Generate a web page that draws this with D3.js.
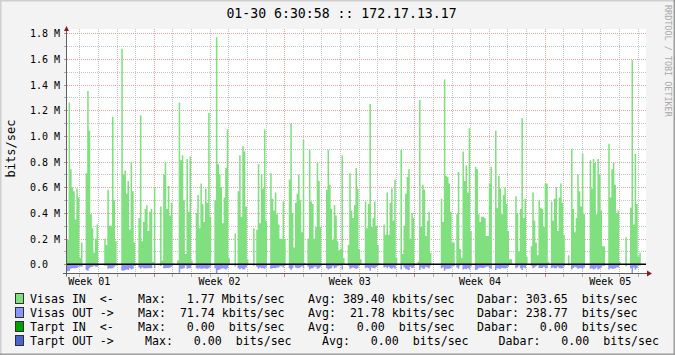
<!DOCTYPE html>
<html>
<head>
<meta charset="utf-8">
<script src="https://cdn.jsdelivr.net/npm/d3@7"></script>
<style>
  body { margin: 0; background: #f3f3f3; }
  svg { display: block; }
  text { font-family: "DejaVu Sans Mono", monospace; }
</style>
</head>
<body>
<div id="vis"></div>
<script>
const WIDTH = 675;
const HEIGHT = 355;
const PLOT = { left: 67, right: 646, top: 29, bottom: 273.5 };

// 2-hour averages starting 01-03 08:00, one line per day, Mbit/s
const STEP_HOURS = 2;
const SPAN_HOURS = 746.7;
const START = Date.UTC(2007, 0, 3, 8);

const visasIn = [
  0.19, 1.26, 0.74, 0.60, 0.57, 0.35, 0.59, 0.52,
  0.05, 0.17, 0, 0, 0.71, 1.35, 1.04, 0.39, 0.28, 0.09, 0.20, 0.31,
  0, 0, 0, 0, 0.20, 0.15, 0.58, 0.30, 0.30, 1.15, 0.50, 0.18,
  0, 0, 0, 1.68, 0.70, 0.73, 0.55, 0.65, 0.27, 0.80, 0.57, 0.17,
  0.01, 0, 0.36, 1.16, 0.18, 0.33, 0.43, 0.46, 0.26, 0.41, 0.43, 0.02,
  0.60, 0, 0, 0, 0.45, 0.03, 0.70, 0.80, 0.43, 0.61, 0.38, 0.48,
  0.01, 0, 0, 0.03, 1.26, 0.81, 0.85, 0.50, 0.08, 0.82, 0.41, 0.84,
  0.03, 0, 0, 0.40, 0.54, 0.28, 0.63, 0.47, 0.33, 0.59, 0.48, 1.18,
  0.37, 0, 0, 0.50, 1.77, 0.78, 0.70, 0.60, 0.32, 0.52, 0.75, 1.05,
  0.05, 0, 0, 0, 0.24, 0, 0.57, 0.85, 0.37, 0.92, 0.88, 0.45,
  0.04, 0, 0, 0, 0.28, 0, 0.27, 0.78, 0.32, 0.70, 0.59, 1.05,
  0.34, 0, 0, 0.71, 0.51, 0.42, 0.56, 0.39, 0.31, 0.20, 0.20, 0.49,
  0.20, 0, 0, 0.66, 1.10, 0.40, 0.13, 0.48, 0.55, 0.70, 0.50, 0.25,
  0.97, 0.01, 0, 0.20, 0.89, 0.49, 0.47, 0.20, 0.29, 0.79, 0.65, 0.29,
  0, 0, 0, 0.58, 0.89, 0.62, 0.43, 0.19, 0.46, 0.38, 0.18, 0.11,
  0.12, 0.85, 0.05, 0, 0, 0.15, 0.71, 0.42, 0.36, 0.46, 0.75, 0.59,
  0.12, 0.04, 0, 0, 0.49, 0.28, 0.47, 1.25, 0.29, 0.36, 0.49, 0.30,
  0.15, 0.01, 0, 0, 0.31, 0.23, 0.56, 0.23, 0.48, 0.59, 0.34, 0.66,
  0.05, 0, 0, 0.89, 0.08, 0.30, 0.55, 0.68, 0.74, 0.20, 0.40, 0.36,
  0, 0, 0.02, 1.28, 0.29, 0.62, 0.58, 0.22, 0.34, 0.41, 0.09, 0,
  0, 0, 0, 0, 0, 0.51, 0.33, 1.44, 0.69, 0.68, 0.63, 0.41,
  0.17, 0.17, 0, 0.39, 0.72, 0.12, 0.05, 0.88, 0.65, 0.77, 0.56, 1.06,
  0.26, 0, 0, 0.76, 0.74, 0.39, 0.33, 0.37, 0.37, 0.36, 0.22, 0.22,
  0.63, 0.76, 0, 0, 1.04, 0.44, 0.69, 0.59, 0.39, 0.54, 0.60, 0.47,
  0.26, 0.04, 0.04, 0, 0, 0.53, 0.40, 0.10, 0.43, 1.14, 0.36, 0.51,
  0.06, 0, 0, 0.14, 0.56, 0.34, 0.17, 0.07, 0.50, 0.44, 0.43, 0.29,
  0.63, 0.63, 0.02, 0, 0.49, 0.34, 0.51, 0.60, 0.26, 0.52, 0.63, 0.48,
  0.23, 0, 0, 0.07, 0, 0.90, 0.43, 0.25, 0.36, 0.70, 0.57, 0.45,
  0.86, 0.39, 0, 0, 0, 0.81, 0.59, 0.82, 0.79, 0.39, 0.82, 0.70,
  0.42, 0.14, 0.14, 0, 0, 0.94, 0.52, 0.74, 0.79, 0.62, 0.40, 0.42,
  0.02, 0, 0, 0, 0.21, 0, 0, 0.44, 1.59, 0.31, 0.86, 0.47,
  0.06, 0.09, 0, 0, 0, 0
];

const visasOut = [
  0.055, 0.05, 0.035, 0.03, 0.03, 0.03, 0.028, 0.02,
  0.018, 0.02, 0.004, 0.004, 0.045, 0.05, 0.03, 0.022, 0.02, 0.012, 0.018, 0.02,
  0.002, 0.002, 0.002, 0.002, 0.01, 0.01, 0.035, 0.03, 0.032, 0.03, 0.02, 0.012,
  0.003, 0.002, 0.002, 0.048, 0.05, 0.045, 0.04, 0.045, 0.03, 0.04, 0.035, 0.012,
  0.005, 0.002, 0.025, 0.035, 0.025, 0.03, 0.032, 0.03, 0.03, 0.03, 0.03, 0.005,
  0.03, 0.003, 0.003, 0.003, 0.012, 0.004, 0.03, 0.03, 0.028, 0.03, 0.025, 0.02,
  0.004, 0.002, 0.002, 0.004, 0.065, 0.035, 0.035, 0.03, 0.01, 0.035, 0.03, 0.03,
  0.005, 0.002, 0.002, 0.03, 0.035, 0.03, 0.035, 0.035, 0.03, 0.035, 0.035, 0.03,
  0.02, 0.002, 0.002, 0.03, 0.068, 0.045, 0.04, 0.035, 0.03, 0.035, 0.04, 0.03,
  0.006, 0.002, 0.002, 0.002, 0.015, 0.002, 0.03, 0.04, 0.03, 0.04, 0.038, 0.025,
  0.004, 0.002, 0.002, 0.002, 0.012, 0.002, 0.02, 0.035, 0.025, 0.03, 0.03, 0.035,
  0.02, 0.002, 0.002, 0.035, 0.03, 0.028, 0.03, 0.025, 0.025, 0.015, 0.015, 0.025,
  0.012, 0.002, 0.002, 0.03, 0.045, 0.03, 0.01, 0.025, 0.03, 0.03, 0.025, 0.015,
  0.03, 0.003, 0.002, 0.02, 0.04, 0.03, 0.03, 0.02, 0.02, 0.035, 0.03, 0.02,
  0.002, 0.002, 0.002, 0.03, 0.04, 0.035, 0.03, 0.015, 0.03, 0.025, 0.015, 0.01,
  0.01, 0.04, 0.005, 0.002, 0.002, 0.012, 0.035, 0.03, 0.025, 0.03, 0.035, 0.03,
  0.01, 0.004, 0.002, 0.002, 0.03, 0.025, 0.03, 0.05, 0.025, 0.028, 0.03, 0.022,
  0.012, 0.003, 0.002, 0.002, 0.025, 0.02, 0.03, 0.02, 0.03, 0.035, 0.025, 0.035,
  0.006, 0.002, 0.002, 0.04, 0.008, 0.025, 0.035, 0.04, 0.045, 0.02, 0.03, 0.025,
  0.002, 0.002, 0.004, 0.045, 0.025, 0.035, 0.035, 0.02, 0.025, 0.03, 0.01, 0.002,
  0.002, 0.002, 0.002, 0.002, 0.002, 0.03, 0.025, 0.05, 0.035, 0.035, 0.035, 0.03,
  0.015, 0.015, 0.002, 0.025, 0.035, 0.01, 0.006, 0.04, 0.035, 0.038, 0.03, 0.04,
  0.02, 0.002, 0.002, 0.045, 0.04, 0.03, 0.025, 0.028, 0.028, 0.025, 0.018, 0.018,
  0.03, 0.035, 0.002, 0.002, 0.045, 0.03, 0.035, 0.035, 0.028, 0.03, 0.032, 0.03,
  0.02, 0.005, 0.005, 0.002, 0.002, 0.03, 0.025, 0.01, 0.03, 0.045, 0.025, 0.03,
  0.006, 0.002, 0.002, 0.012, 0.03, 0.025, 0.015, 0.008, 0.03, 0.028, 0.028, 0.02,
  0.03, 0.03, 0.004, 0.002, 0.03, 0.025, 0.03, 0.03, 0.02, 0.03, 0.03, 0.03,
  0.018, 0.002, 0.002, 0.008, 0.002, 0.04, 0.028, 0.02, 0.025, 0.035, 0.03, 0.028,
  0.035, 0.025, 0.002, 0.002, 0.002, 0.035, 0.03, 0.04, 0.035, 0.025, 0.04, 0.035,
  0.025, 0.012, 0.012, 0.002, 0.002, 0.04, 0.03, 0.035, 0.035, 0.03, 0.025, 0.025,
  0.004, 0.002, 0.002, 0.002, 0.015, 0.002, 0.002, 0.03, 0.0717, 0.025, 0.04, 0.03,
  0.008, 0.01, 0.002, 0.002, 0.002, 0.002
];

const Y_MIN = -0.07174;
const Y_MAX = 1.8337;
const yTickValues = [0, 0.2, 0.4, 0.6, 0.8, 1.0, 1.2, 1.4, 1.6, 1.8];
const yMinorValues = [0.1, 0.3, 0.5, 0.7, 0.9, 1.1, 1.3, 1.5, 1.7];

const TITLE = "01-30 6:30:58 :: 172.17.13.17";
const Y_LABEL = "bits/sec";
const WATERMARK = "RRDTOOL / TOBI OETIKER";

const legendNames = ["Visas IN  <-", "Visas OUT ->", "Tarpt IN  <-", "Tarpt OUT ->"];
const legendColors = ["#80e080", "#8a96ff", "#00a000", "#4a66cc"];
const legendMax = [[1.77, "M"], [71.74, "k"], [0, ""], [0, ""]];
const legendAvg = [[389.40, "k"], [21.78, "k"], [0, ""], [0, ""]];
const legendDabar = [[303.65, ""], [238.77, ""], [0, ""], [0, ""]];

const svg = d3.select("#vis")
  .append("svg")
  .attr("width", WIDTH)
  .attr("height", HEIGHT);

// background with rrdtool style shade
svg.append("rect").attr("width", WIDTH).attr("height", HEIGHT).attr("fill", "#f3f3f3");
svg.append("path").attr("d", `M0,${HEIGHT} V0 H${WIDTH}`)
  .attr("fill", "none").attr("stroke", "#cfcfcf").attr("stroke-width", 3);
svg.append("path").attr("d", `M0,${HEIGHT} H${WIDTH} V0`)
  .attr("fill", "none").attr("stroke", "#9e9e9e").attr("stroke-width", 3);

const X_SCALE = d3.scaleUtc()
  .domain([new Date(START), new Date(START + SPAN_HOURS * 3600e3)])
  .range([PLOT.left, PLOT.right]);

const Y_SCALE = d3.scaleLinear()
  .domain([Y_MIN, Y_MAX])
  .range([PLOT.bottom, PLOT.top]);

svg.append("rect")
  .attr("x", PLOT.left).attr("y", PLOT.top)
  .attr("width", PLOT.right - PLOT.left).attr("height", PLOT.bottom - PLOT.top)
  .attr("fill", "#ffffff");

svg.append("clipPath").attr("id", "clip")
  .append("rect")
  .attr("x", PLOT.left).attr("y", PLOT.top)
  .attr("width", PLOT.right - PLOT.left).attr("height", PLOT.bottom - PLOT.top);

// grid
const grid = svg.append("g").attr("shape-rendering", "crispEdges");
const days = d3.utcDay.range(X_SCALE.domain()[0], X_SCALE.domain()[1]);
const isMonday = (d) => d.getUTCDay() === 1;

grid.selectAll(".hminor").data(yMinorValues).enter().append("line")
  .attr("x1", PLOT.left).attr("x2", PLOT.right)
  .attr("y1", (d) => Math.round(Y_SCALE(d)) + 0.5).attr("y2", (d) => Math.round(Y_SCALE(d)) + 0.5)
  .attr("stroke", "#c4c4c4").attr("stroke-dasharray", "1,1");
grid.selectAll(".vminor").data(days.filter((d) => !isMonday(d))).enter().append("line")
  .attr("x1", (d) => Math.round(X_SCALE(d)) + 0.5).attr("x2", (d) => Math.round(X_SCALE(d)) + 0.5)
  .attr("y1", PLOT.top).attr("y2", PLOT.bottom)
  .attr("stroke", "#c4c4c4").attr("stroke-dasharray", "1,1");
grid.selectAll(".hmajor").data(yTickValues.filter((d) => d > 0)).enter().append("line")
  .attr("x1", PLOT.left).attr("x2", PLOT.right)
  .attr("y1", (d) => Math.round(Y_SCALE(d)) + 0.5).attr("y2", (d) => Math.round(Y_SCALE(d)) + 0.5)
  .attr("stroke", "#e2a4a4").attr("stroke-dasharray", "1,1");
grid.selectAll(".vmajor").data(days.filter(isMonday)).enter().append("line")
  .attr("x1", (d) => Math.round(X_SCALE(d)) + 0.5).attr("x2", (d) => Math.round(X_SCALE(d)) + 0.5)
  .attr("y1", PLOT.top).attr("y2", PLOT.bottom)
  .attr("stroke", "#e2a4a4").attr("stroke-dasharray", "1,1");

// small ticks on the axes
grid.selectAll(".ytick").data(yTickValues.concat(yMinorValues)).enter().append("line")
  .attr("x1", PLOT.left - 3).attr("x2", PLOT.left)
  .attr("y1", (d) => Math.round(Y_SCALE(d)) + 0.5).attr("y2", (d) => Math.round(Y_SCALE(d)) + 0.5)
  .attr("stroke", (d) => yTickValues.includes(d) ? "#d08080" : "#b0b0b0");
grid.selectAll(".xtick").data(days).enter().append("line")
  .attr("x1", (d) => Math.round(X_SCALE(d)) + 0.5).attr("x2", (d) => Math.round(X_SCALE(d)) + 0.5)
  .attr("y1", PLOT.bottom).attr("y2", PLOT.bottom + 3)
  .attr("stroke", (d) => isMonday(d) ? "#d08080" : "#b0b0b0");

// series
const toPoints = (arr, sign) => {
  const pts = arr.map((v, i) => ({ t: new Date(START + i * STEP_HOURS * 3600e3), v: sign * v }));
  pts.push({ t: new Date(START + arr.length * STEP_HOURS * 3600e3), v: sign * arr[arr.length - 1] });
  return pts;
};

const area = d3.area()
  .curve(d3.curveStepAfter)
  .x((d) => X_SCALE(d.t))
  .y0(Y_SCALE(0))
  .y1((d) => Y_SCALE(d.v));

const series = svg.append("g").attr("clip-path", "url(#clip)");
series.append("path").datum(toPoints(visasIn, 1))
  .attr("d", area).attr("fill", legendColors[0]);
series.append("path").datum(toPoints(visasOut, -1))
  .attr("d", area).attr("fill", legendColors[1]);

svg.append("line")
  .attr("x1", PLOT.left).attr("x2", PLOT.right)
  .attr("y1", Y_SCALE(0)).attr("y2", Y_SCALE(0))
  .attr("stroke", "#000").attr("stroke-width", 1.4);

// axes lines and arrows
svg.append("line")
  .attr("x1", PLOT.left - 0.5).attr("x2", PLOT.left - 0.5)
  .attr("y1", PLOT.bottom + 3).attr("y2", PLOT.top)
  .attr("stroke", "#606060");
svg.append("line")
  .attr("x1", PLOT.left - 4).attr("x2", PLOT.right + 1)
  .attr("y1", PLOT.bottom).attr("y2", PLOT.bottom)
  .attr("stroke", "#606060");
svg.append("path")
  .attr("d", `M${PLOT.left - 3},${PLOT.top + 2} L${PLOT.left + 2},${PLOT.top + 2} L${PLOT.left - 0.5},${PLOT.top - 3} Z`)
  .attr("fill", "#8b1c1c");
svg.append("path")
  .attr("d", `M${PLOT.right + 1},${PLOT.bottom - 3} L${PLOT.right + 1},${PLOT.bottom + 3} L${PLOT.right + 6},${PLOT.bottom} Z`)
  .attr("fill", "#8b1c1c");

// y labels via axis
const yFmt = (d) => d === 0 ? "0.0" : d3.format(".1f")(d) + " M";
svg.append("g")
  .attr("transform", `translate(${PLOT.left},0)`)
  .call(d3.axisLeft(Y_SCALE).tickValues(yTickValues).tickFormat(yFmt).tickSize(0))
  .call((g) => g.select(".domain").remove())
  .call((g) => g.selectAll("text")
    .attr("x", 30 - PLOT.left).attr("dy", "0.36em")
    .attr("text-anchor", "start")
    .attr("font-family", "DejaVu Sans Mono").attr("font-size", 10).attr("fill", "#000"));

// week labels via axis, centred on mid-week
const weekCenters = d3.utcMonday.range(new Date(Date.UTC(2007, 0, 1)), X_SCALE.domain()[1])
  .map((d) => new Date(+d + 3.5 * 86400e3));
svg.append("g")
  .call(d3.axisBottom(X_SCALE).tickValues(weekCenters).tickFormat(d3.utcFormat("Week %V")).tickSize(0))
  .call((g) => g.select(".domain").remove())
  .call((g) => g.selectAll("text")
    .attr("y", 285).attr("dy", 0)
    .attr("font-family", "DejaVu Sans Mono").attr("font-size", 10).attr("fill", "#000"));

// title, vertical label, watermark
svg.append("text")
  .attr("x", 341.5).attr("y", 18)
  .attr("text-anchor", "middle")
  .attr("font-size", 13.2)
  .text(TITLE);

svg.append("text")
  .attr("transform", "translate(14.5,148.5) rotate(-90)")
  .attr("text-anchor", "middle")
  .attr("font-size", 12)
  .text(Y_LABEL);

svg.append("text")
  .attr("transform", "translate(664.5,5) rotate(90)")
  .attr("font-size", 8.45)
  .attr("fill", "#a8a8a8")
  .text(WATERMARK);

// legend
const pad = (s, n) => s.length >= n ? s : " ".repeat(n - s.length) + s;
const gp = (label, pair) => label + " " + pad(pair[0].toFixed(2), 6) + " " + (pair[1] || " ") + "bits/sec";
const colX = [[30, 138, 308, 477], [30, 138, 308, 477], [30, 138, 308, 477], [30, 145, 322, 498.5]];

const legend = svg.append("g").attr("font-size", 11.6).attr("fill", "#000");
legendNames.forEach((name, i) => {
  const base = 303 + i * 14;
  legend.append("rect")
    .attr("x", 15.5).attr("y", base - 9.5)
    .attr("width", 8).attr("height", 10)
    .attr("fill", legendColors[i]).attr("stroke", "#303030");
  const parts = [name, gp("Max:", legendMax[i]), gp("Avg:", legendAvg[i]), gp("Dabar:", legendDabar[i])];
  parts.forEach((p, j) => {
    legend.append("text")
      .attr("x", colX[i][j]).attr("y", base)
      .attr("xml:space", "preserve")
      .style("white-space", "pre")
      .text(p);
  });
});
</script>
</body>
</html>
